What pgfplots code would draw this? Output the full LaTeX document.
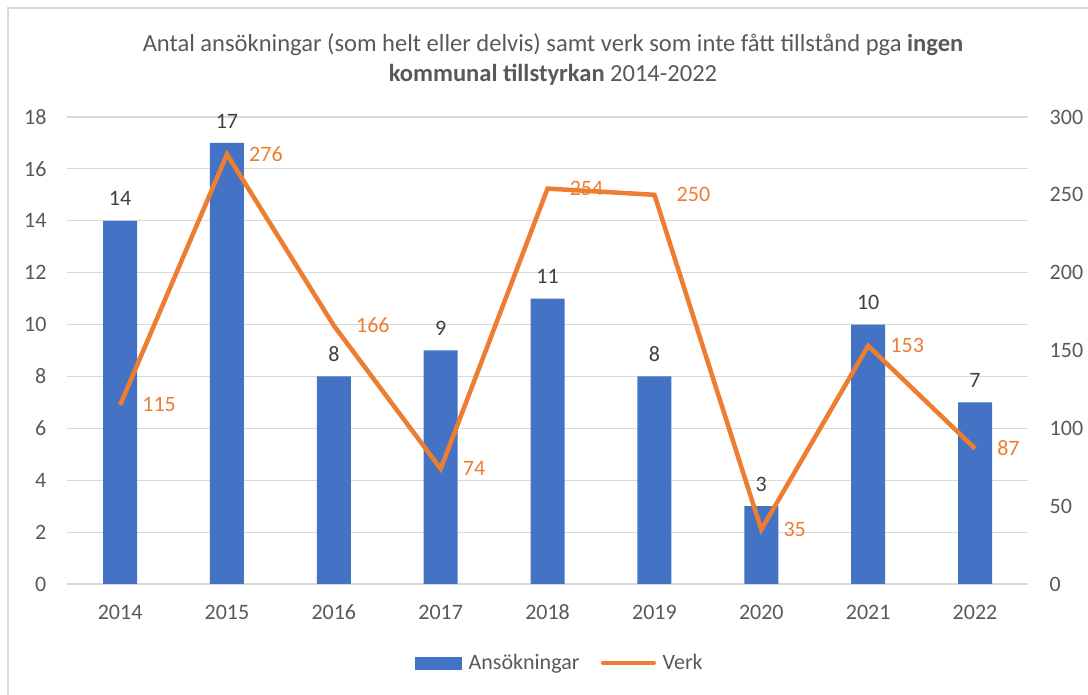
\documentclass[border=0pt]{standalone}
\usepackage{pgfplots}
\pgfplotsset{compat=1.18}
\usepackage{pgfplotstable}
\usepackage{fontspec}
\setmainfont{Carlito}
\definecolor{barblue}{HTML}{4472C4}
\definecolor{lineorange}{HTML}{ED7D31}
\definecolor{txtgray}{HTML}{595959}
\definecolor{lblgray}{HTML}{404040}
\definecolor{gridgray}{HTML}{D9D9D9}

\pgfplotstableread{
x a v
0 14 115
1 17 276
2 8 166
3 9 74
4 11 254
5 8 250
6 3 35
7 10 153
8 7 87
}\data

\newcommand{\tfont}{\fontsize{16.5}{19}\selectfont}

\begin{document}
\begin{tikzpicture}[x=1pt,y=1pt]
\path[use as bounding box] (0,0) rectangle (816,521.25);
\draw[gridgray, line width=1.5pt] (6,0) -- (6,515.25) -- (816,515.25);
\node[txtgray, font=\fontsize{18.4}{22}\selectfont, inner sep=0pt] at (414.75,487.5) {Antal ansökningar (som helt eller delvis) samt verk som inte fått tillstånd pga \textbf{ingen}};
\node[txtgray, font=\fontsize{18.4}{22}\selectfont, inner sep=0pt] at (414.75,465) {\textbf{kommunal tillstyrkan} 2014-2022};

\begin{axis}[
  at={(50pt,83.25pt)}, anchor=south west,
  scale only axis, width=721.35pt, height=350.25pt,
  xmin=-0.5, xmax=8.5, ymin=0, ymax=18,
  ytick={0,2,...,18},
  xtick={0,...,8},
  xticklabels={2014,2015,2016,2017,2018,2019,2020,2021,2022},
  axis line style={draw=none}, major tick length=0pt,
  ymajorgrids, grid style={gridgray, line width=0.9pt},
  tick label style={txtgray, font=\tfont},
  /pgf/number format/assume math mode=true,
  yticklabel style={inner sep=0pt, anchor=east, xshift=-15pt},
  xticklabel style={inner sep=0pt, anchor=base, yshift=-27pt},
  ybar, bar width=25.5pt,
  nodes near coords,
  nodes near coords style={lblgray, font=\tfont, anchor=south, inner sep=0pt, yshift=11pt},
]
\addplot[fill=barblue, draw=none] table[x=x,y=a]{\data};
\end{axis}

\begin{axis}[
  at={(50pt,83.25pt)}, anchor=south west,
  scale only axis, width=721.35pt, height=350.25pt,
  xmin=-0.5, xmax=8.5, ymin=0, ymax=300,
  ytick={0,50,...,300},
  xtick=\empty,
  axis line style={draw=none}, major tick length=0pt,
  yticklabel pos=right,
  tick label style={txtgray, font=\tfont},
  /pgf/number format/assume math mode=true,
  yticklabel style={inner sep=0pt, anchor=west, xshift=15.75pt},
  legend style={draw=none, fill=none, at={(0.513,-0.169)}, anchor=center, font=\tfont, text=txtgray,
    /tikz/every odd column/.append style={column sep=3pt},
    /tikz/every even column/.append style={column sep=14pt}},
  legend columns=2,
]
\addlegendimage{legend image code/.code={\fill[barblue] (0pt,-4.5pt) rectangle (35pt,4.5pt);}}
\addlegendentry{Ansökningar}
\addplot[lineorange, line width=3.4pt,
  nodes near coords,
  nodes near coords style={lineorange, font=\tfont, anchor=west, inner sep=0pt, xshift=15pt},
  legend image code/.code={\draw[lineorange, line width=3.4pt, line cap=round] (0pt,0pt) -- (38pt,0pt);}
] table[x=x,y=v]{\data};
\addlegendentry{Verk}
\end{axis}
\end{tikzpicture}
\end{document}
